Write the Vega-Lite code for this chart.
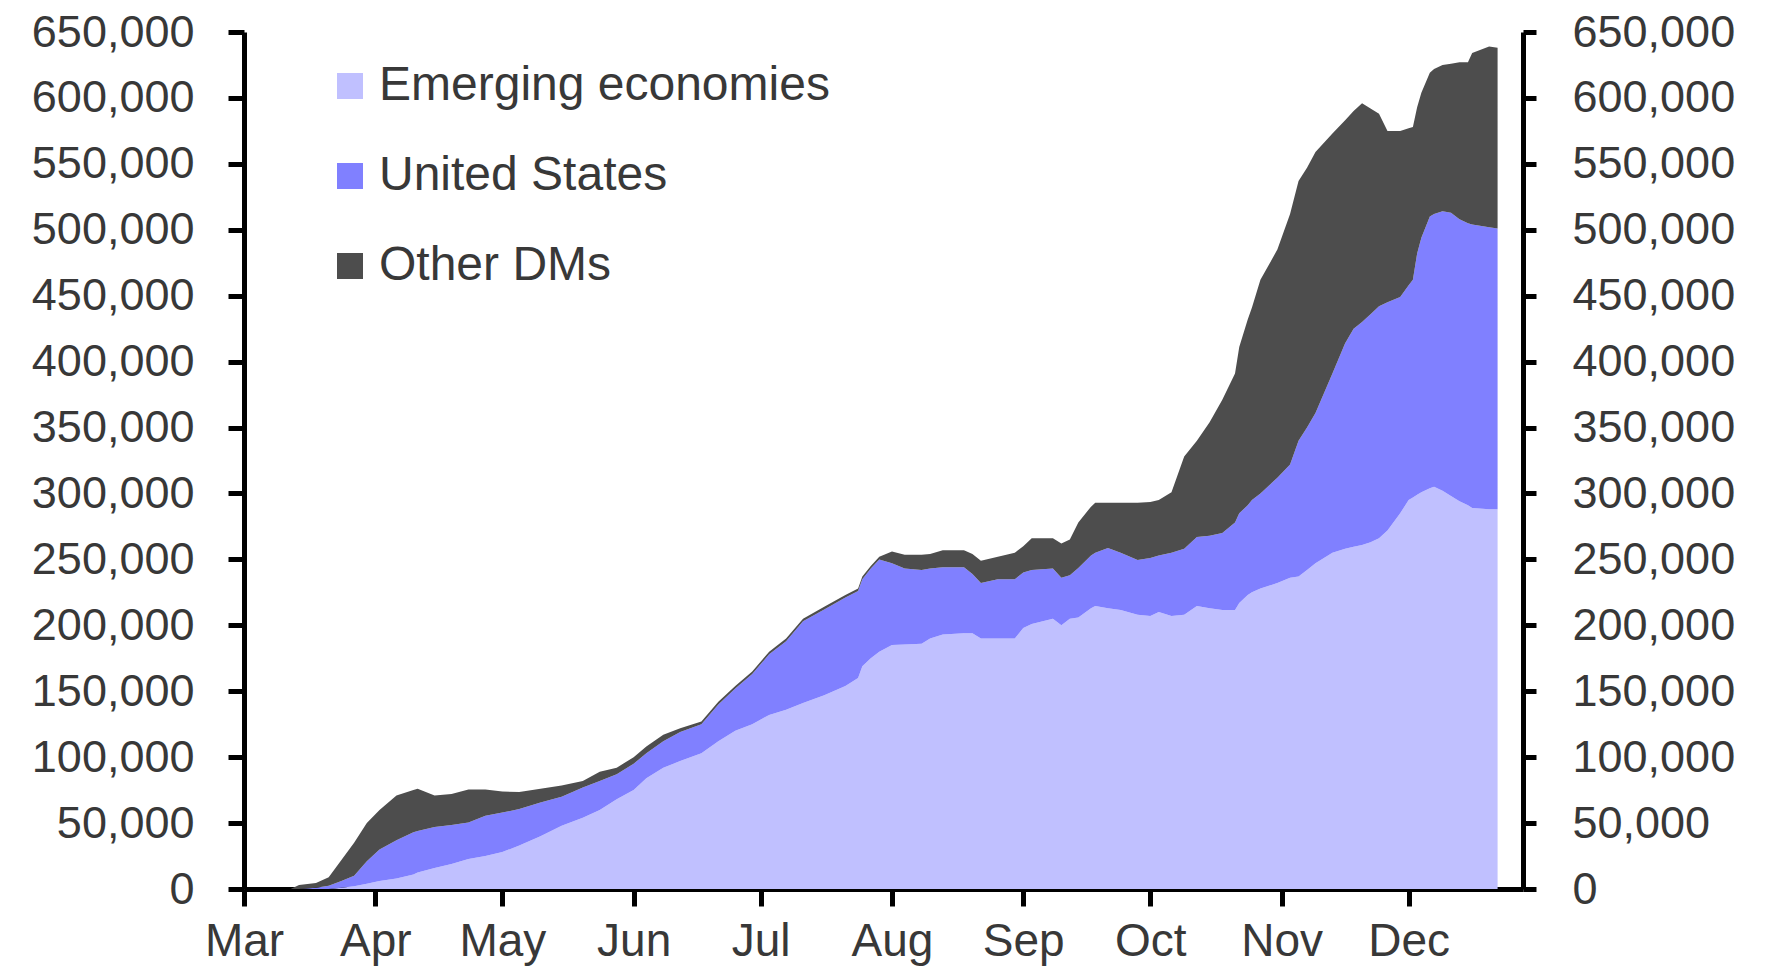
{
  "$schema": "https://vega.github.io/schema/vega-lite/v6.json",
  "width": 1279,
  "height": 857,
  "autosize": {"type": "none"},
  "padding": {"left": 244, "top": 32, "right": 243, "bottom": 80},
  "background": "white",
  "config": {
    "view": {"stroke": null},
    "axis": {
      "grid": false,
      "domainColor": "black",
      "domainWidth": 5,
      "tickColor": "black",
      "tickWidth": 5,
      "tickSize": 13,
      "labelFont": "Liberation Sans",
      "labelFontSize": 45,
      "labelColor": "#383838",
      "title": null
    },
    "legend": {
      "labelFont": "Liberation Sans",
      "labelFontSize": 48,
      "labelColor": "#383838"
    }
  },
  "datasets": {
    "ranks": [
      {"region": "Emerging economies", "rank": 1},
      {"region": "United States", "rank": 2},
      {"region": "Other DMs", "rank": 3}
    ]
  },
  "data": {
    "values": [
      {"date": "2020-03-01", "Emerging economies": 0, "United States": 0, "Other DMs": 0},
      {"date": "2020-03-12", "Emerging economies": 0, "United States": 0, "Other DMs": 0},
      {"date": "2020-03-14", "Emerging economies": 0, "United States": 0, "Other DMs": 3000},
      {"date": "2020-03-18", "Emerging economies": 0, "United States": 1000, "Other DMs": 3500},
      {"date": "2020-03-21", "Emerging economies": 0, "United States": 2500, "Other DMs": 6500},
      {"date": "2020-03-24", "Emerging economies": 1000, "United States": 5000, "Other DMs": 16000},
      {"date": "2020-03-27", "Emerging economies": 2000, "United States": 8000, "Other DMs": 25000},
      {"date": "2020-03-30", "Emerging economies": 4000, "United States": 17000, "Other DMs": 29000},
      {"date": "2020-04-02", "Emerging economies": 6000, "United States": 24000, "Other DMs": 30000},
      {"date": "2020-04-06", "Emerging economies": 8000, "United States": 29000, "Other DMs": 34000},
      {"date": "2020-04-10", "Emerging economies": 11000, "United States": 32000, "Other DMs": 32000},
      {"date": "2020-04-11", "Emerging economies": 12500, "United States": 31500, "Other DMs": 32000},
      {"date": "2020-04-15", "Emerging economies": 16000, "United States": 31000, "Other DMs": 24000},
      {"date": "2020-04-19", "Emerging economies": 19000, "United States": 29500, "Other DMs": 23500},
      {"date": "2020-04-23", "Emerging economies": 22700, "United States": 27800, "Other DMs": 25000},
      {"date": "2020-04-27", "Emerging economies": 25000, "United States": 30500, "Other DMs": 20000},
      {"date": "2020-05-01", "Emerging economies": 28000, "United States": 30000, "Other DMs": 16000},
      {"date": "2020-05-05", "Emerging economies": 33000, "United States": 27600, "Other DMs": 12900},
      {"date": "2020-05-10", "Emerging economies": 40000, "United States": 25600, "Other DMs": 10400},
      {"date": "2020-05-15", "Emerging economies": 48000, "United States": 22000, "Other DMs": 8500},
      {"date": "2020-05-20", "Emerging economies": 54000, "United States": 23000, "Other DMs": 5000},
      {"date": "2020-05-24", "Emerging economies": 60000, "United States": 22000, "Other DMs": 7000},
      {"date": "2020-05-28", "Emerging economies": 68000, "United States": 19000, "Other DMs": 5000},
      {"date": "2020-06-01", "Emerging economies": 75000, "United States": 20000, "Other DMs": 5000},
      {"date": "2020-06-04", "Emerging economies": 84000, "United States": 19000, "Other DMs": 5000},
      {"date": "2020-06-08", "Emerging economies": 92000, "United States": 20000, "Other DMs": 5000},
      {"date": "2020-06-12", "Emerging economies": 97000, "United States": 22000, "Other DMs": 3000},
      {"date": "2020-06-17", "Emerging economies": 103000, "United States": 22000, "Other DMs": 2000},
      {"date": "2020-06-21", "Emerging economies": 112000, "United States": 28000, "Other DMs": 2000},
      {"date": "2020-06-25", "Emerging economies": 120000, "United States": 32000, "Other DMs": 2000},
      {"date": "2020-06-29", "Emerging economies": 125000, "United States": 38000, "Other DMs": 2000},
      {"date": "2020-07-03", "Emerging economies": 132000, "United States": 46000, "Other DMs": 2000},
      {"date": "2020-07-07", "Emerging economies": 136000, "United States": 52000, "Other DMs": 2000},
      {"date": "2020-07-11", "Emerging economies": 141000, "United States": 62000, "Other DMs": 2000},
      {"date": "2020-07-16", "Emerging economies": 147000, "United States": 65000, "Other DMs": 2000},
      {"date": "2020-07-21", "Emerging economies": 154000, "United States": 67000, "Other DMs": 2000},
      {"date": "2020-07-24", "Emerging economies": 160000, "United States": 66000, "Other DMs": 2000},
      {"date": "2020-07-25", "Emerging economies": 169000, "United States": 66000, "Other DMs": 2000},
      {"date": "2020-07-27", "Emerging economies": 175000, "United States": 68000, "Other DMs": 2000},
      {"date": "2020-07-29", "Emerging economies": 180000, "United States": 70000, "Other DMs": 2000},
      {"date": "2020-08-01", "Emerging economies": 185000, "United States": 62000, "Other DMs": 9000},
      {"date": "2020-08-04", "Emerging economies": 185500, "United States": 57500, "Other DMs": 10600},
      {"date": "2020-08-08", "Emerging economies": 186000, "United States": 56000, "Other DMs": 11600},
      {"date": "2020-08-10", "Emerging economies": 190000, "United States": 53000, "Other DMs": 11000},
      {"date": "2020-08-13", "Emerging economies": 193000, "United States": 51000, "Other DMs": 13000},
      {"date": "2020-08-18", "Emerging economies": 194000, "United States": 50000, "Other DMs": 13000},
      {"date": "2020-08-20", "Emerging economies": 194000, "United States": 45000, "Other DMs": 15000},
      {"date": "2020-08-22", "Emerging economies": 190000, "United States": 42000, "Other DMs": 17000},
      {"date": "2020-08-26", "Emerging economies": 190000, "United States": 45000, "Other DMs": 17000},
      {"date": "2020-08-30", "Emerging economies": 190000, "United States": 45000, "Other DMs": 20000},
      {"date": "2020-09-01", "Emerging economies": 198000, "United States": 42000, "Other DMs": 20000},
      {"date": "2020-09-03", "Emerging economies": 201000, "United States": 41000, "Other DMs": 24000},
      {"date": "2020-09-08", "Emerging economies": 205000, "United States": 38000, "Other DMs": 23000},
      {"date": "2020-09-10", "Emerging economies": 200000, "United States": 36000, "Other DMs": 26000},
      {"date": "2020-09-12", "Emerging economies": 205000, "United States": 33000, "Other DMs": 27000},
      {"date": "2020-09-14", "Emerging economies": 206000, "United States": 37500, "Other DMs": 34500},
      {"date": "2020-09-17", "Emerging economies": 213000, "United States": 40000, "Other DMs": 37000},
      {"date": "2020-09-18", "Emerging economies": 214700, "United States": 40300, "Other DMs": 38000},
      {"date": "2020-09-21", "Emerging economies": 213000, "United States": 45700, "Other DMs": 34300},
      {"date": "2020-09-24", "Emerging economies": 211700, "United States": 43300, "Other DMs": 38000},
      {"date": "2020-09-28", "Emerging economies": 208000, "United States": 41600, "Other DMs": 43400},
      {"date": "2020-10-01", "Emerging economies": 207000, "United States": 44000, "Other DMs": 42500},
      {"date": "2020-10-03", "Emerging economies": 210000, "United States": 43000, "Other DMs": 42000},
      {"date": "2020-10-06", "Emerging economies": 207000, "United States": 48000, "Other DMs": 46000},
      {"date": "2020-10-09", "Emerging economies": 208000, "United States": 50000, "Other DMs": 70000},
      {"date": "2020-10-12", "Emerging economies": 214700, "United States": 52300, "Other DMs": 73000},
      {"date": "2020-10-15", "Emerging economies": 213000, "United States": 55000, "Other DMs": 86000},
      {"date": "2020-10-18", "Emerging economies": 211700, "United States": 58300, "Other DMs": 101000},
      {"date": "2020-10-21", "Emerging economies": 211700, "United States": 66300, "Other DMs": 113000},
      {"date": "2020-10-22", "Emerging economies": 217000, "United States": 68000, "Other DMs": 126000},
      {"date": "2020-10-24", "Emerging economies": 223000, "United States": 68000, "Other DMs": 141000},
      {"date": "2020-10-25", "Emerging economies": 225000, "United States": 70000, "Other DMs": 146000},
      {"date": "2020-10-27", "Emerging economies": 228000, "United States": 72000, "Other DMs": 162000},
      {"date": "2020-10-31", "Emerging economies": 232000, "United States": 80000, "Other DMs": 173000},
      {"date": "2020-11-03", "Emerging economies": 236000, "United States": 86000, "Other DMs": 190000},
      {"date": "2020-11-05", "Emerging economies": 237000, "United States": 103000, "Other DMs": 197000},
      {"date": "2020-11-07", "Emerging economies": 242000, "United States": 108000, "Other DMs": 197000},
      {"date": "2020-11-09", "Emerging economies": 247000, "United States": 114000, "Other DMs": 198000},
      {"date": "2020-11-13", "Emerging economies": 255000, "United States": 136000, "Other DMs": 182000},
      {"date": "2020-11-16", "Emerging economies": 258000, "United States": 156000, "Other DMs": 169000},
      {"date": "2020-11-18", "Emerging economies": 259500, "United States": 165500, "Other DMs": 165000},
      {"date": "2020-11-20", "Emerging economies": 261000, "United States": 169000, "Other DMs": 166000},
      {"date": "2020-11-22", "Emerging economies": 263000, "United States": 173000, "Other DMs": 156000},
      {"date": "2020-11-24", "Emerging economies": 266000, "United States": 176000, "Other DMs": 146000},
      {"date": "2020-11-26", "Emerging economies": 272000, "United States": 173000, "Other DMs": 130000},
      {"date": "2020-11-29", "Emerging economies": 285000, "United States": 164000, "Other DMs": 126000},
      {"date": "2020-12-01", "Emerging economies": 295000, "United States": 163000, "Other DMs": 119000},
      {"date": "2020-12-02", "Emerging economies": 297000, "United States": 165000, "Other DMs": 116000},
      {"date": "2020-12-03", "Emerging economies": 299000, "United States": 183000, "Other DMs": 111000},
      {"date": "2020-12-04", "Emerging economies": 301000, "United States": 193000, "Other DMs": 110000},
      {"date": "2020-12-06", "Emerging economies": 304000, "United States": 206000, "Other DMs": 109000},
      {"date": "2020-12-07", "Emerging economies": 305000, "United States": 207000, "Other DMs": 110000},
      {"date": "2020-12-09", "Emerging economies": 302000, "United States": 212000, "Other DMs": 111000},
      {"date": "2020-12-11", "Emerging economies": 298000, "United States": 215000, "Other DMs": 113000},
      {"date": "2020-12-13", "Emerging economies": 294000, "United States": 214000, "Other DMs": 119000},
      {"date": "2020-12-15", "Emerging economies": 291000, "United States": 214000, "Other DMs": 122000},
      {"date": "2020-12-16", "Emerging economies": 289000, "United States": 215000, "Other DMs": 130000},
      {"date": "2020-12-20", "Emerging economies": 288000, "United States": 214000, "Other DMs": 137000},
      {"date": "2020-12-22", "Emerging economies": 288000, "United States": 213000, "Other DMs": 137000}
    ]
  },
  "transform": [
    {"fold": ["Emerging economies", "United States", "Other DMs"], "as": ["region", "value"]},
    {"lookup": "region", "from": {"data": {"name": "ranks"}, "key": "region", "fields": ["rank"]}}
  ],
  "layer": [
    {
      "mark": {"type": "area", "interpolate": "linear"},
      "encoding": {
        "x": {
          "field": "date",
          "type": "temporal",
          "scale": {"domain": ["2020-03-01", "2020-12-28"]},
          "axis": {
            "values": ["2020-03-01", "2020-04-01", "2020-05-01", "2020-06-01", "2020-07-01", "2020-08-01", "2020-09-01", "2020-10-01", "2020-11-01", "2020-12-01"],
            "format": "%b",
            "labelFontSize": 46,
            "labelPadding": 13,
            "tickSize": 17,
            "labelAlign": "center",
            "labelDx": 4
          }
        },
        "y": {
          "field": "value",
          "type": "quantitative",
          "stack": "zero",
          "scale": {"domain": [0, 650000], "nice": false},
          "axis": {
            "orient": "left",
            "values": [0, 50000, 100000, 150000, 200000, 250000, 300000, 350000, 400000, 450000, 500000, 550000, 600000, 650000],
            "format": ",.0f",
            "tickSize": 16,
            "labelPadding": 34
          }
        },
        "order": {"field": "rank", "type": "quantitative", "sort": "ascending"},
        "color": {
          "field": "region",
          "type": "nominal",
          "sort": ["Emerging economies", "United States", "Other DMs"],
          "scale": {
            "domain": ["Emerging economies", "United States", "Other DMs"],
            "range": ["#c0c0ff", "#8080ff", "#4d4d4d"]
          },
          "legend": {
            "title": null,
            "orient": "none",
            "legendX": 82,
            "legendY": 30,
            "symbolType": "square",
            "symbolSize": 676,
            "symbolStrokeWidth": 0,
            "symbolOpacity": 1,
            "rowPadding": 42,
            "labelOffset": 5,
            "labelLimit": 0
          }
        }
      }
    },
    {
      "mark": {"type": "rule", "opacity": 0},
      "encoding": {
        "y": {
          "field": "value",
          "type": "quantitative",
          "scale": {"domain": [0, 650000], "nice": false},
          "axis": {
            "orient": "right",
            "values": [0, 50000, 100000, 150000, 200000, 250000, 300000, 350000, 400000, 450000, 500000, 550000, 600000, 650000],
            "format": ",.0f",
            "labelPadding": 36
          }
        }
      }
    }
  ],
  "resolve": {"scale": {"y": "shared"}, "axis": {"y": "independent"}}
}
